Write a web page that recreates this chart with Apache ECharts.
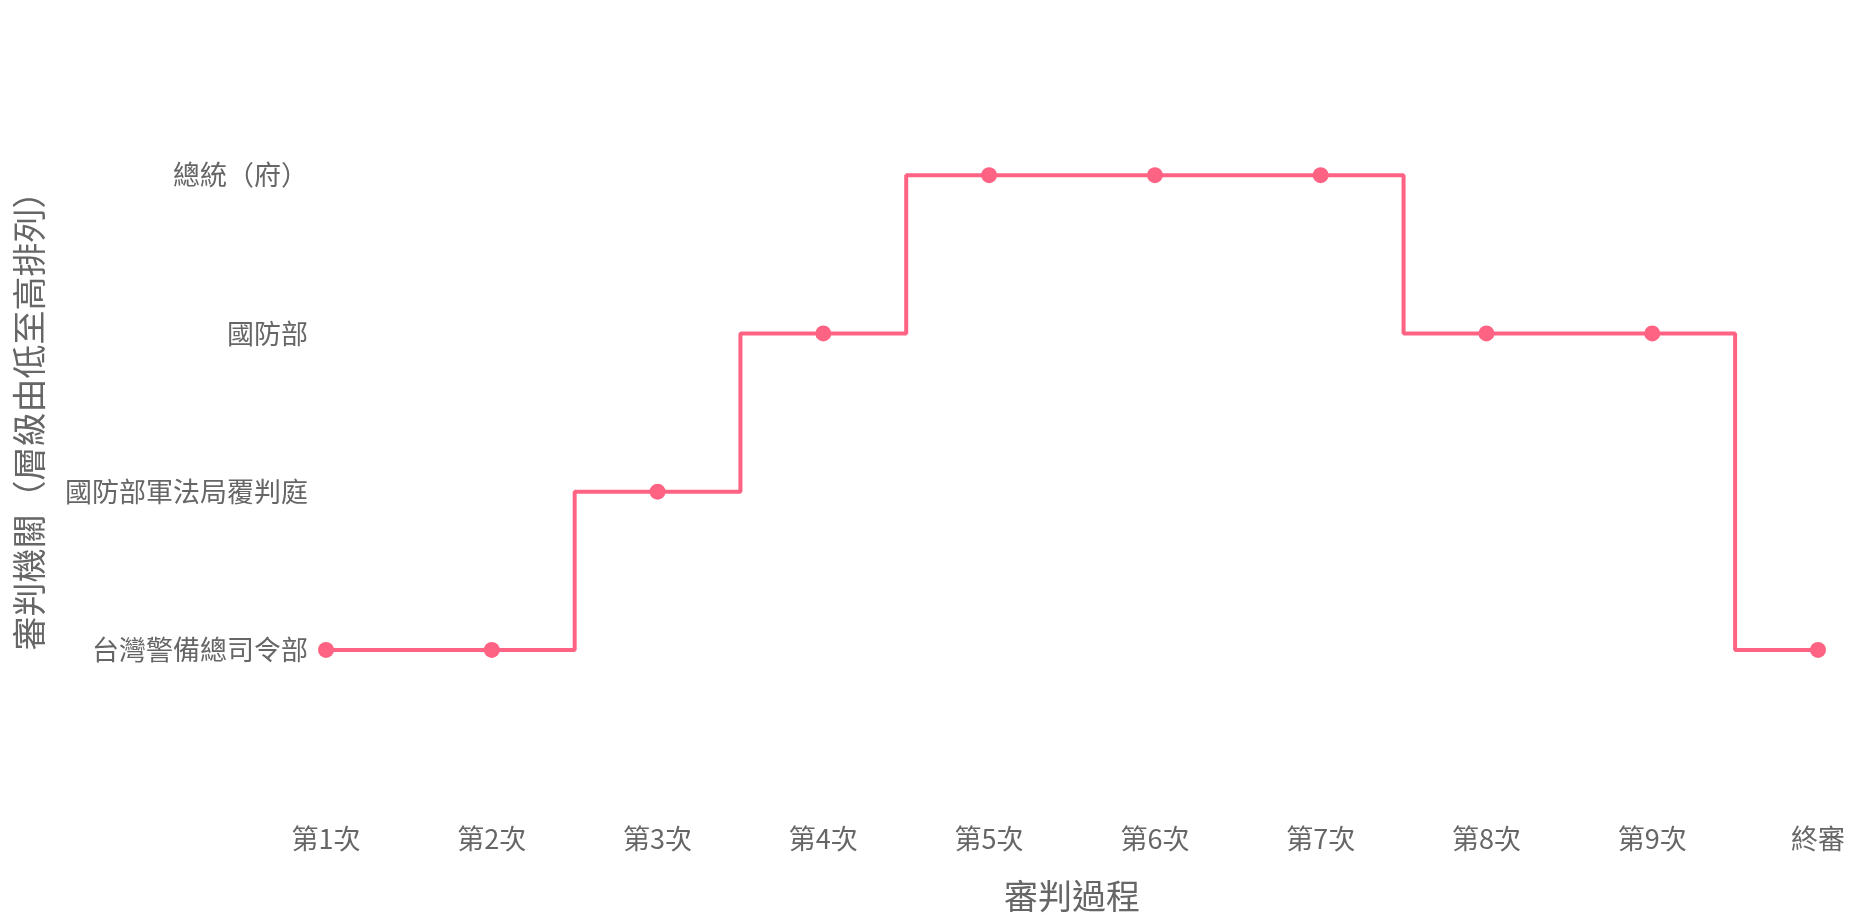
<!DOCTYPE html>
<html lang="zh-Hant-TW"><head><meta charset="utf-8">
<script src="https://cdn.jsdelivr.net/npm/echarts@6/dist/echarts.min.js"></script>
<style>html,body{margin:0;padding:0;background:#fff}#c{width:1849px;height:924px}</style>
</head><body><div id="c" lang="zh-Hant-TW"></div>
<script>
const rounds = ['第1次','第2次','第3次','第4次','第5次','第6次','第7次','第8次','第9次','終審'];
const courts = ['台灣警備總司令部','國防部軍法局覆判庭','國防部','總統（府）'];
const courtByRound = ['台灣警備總司令部','台灣警備總司令部','國防部軍法局覆判庭','國防部','總統（府）','總統（府）','總統（府）','國防部','國防部','台灣警備總司令部'];
const xTitle = '審判過程';
const yTitle = '審判機關（層級由低至高排列）';

const font = '"Noto Sans CJK TC", sans-serif';
const chart = echarts.init(document.getElementById('c'), null, {renderer:'canvas'});
chart.setOption({
  animation:false,
  grid:{left:326, right:31, top:96, bottom:195, containLabel:false},
  xAxis:{
    type:'category', data:rounds, boundaryGap:false,
    axisLine:{show:false}, axisTick:{show:false}, splitLine:{show:false},
    axisLabel:{color:'#666', fontSize:27, fontFamily:font, margin:96},
    name:xTitle, nameLocation:'middle', nameGap:150,
    nameTextStyle:{color:'#666', fontSize:34, fontFamily:font}
  },
  yAxis:{
    type:'category', data:courts, boundaryGap:true,
    axisLine:{show:false}, axisTick:{show:false}, splitLine:{show:false},
    axisLabel:{color:'#666', fontSize:27, fontFamily:font, margin:18},
    name:yTitle, nameLocation:'middle', nameGap:280,
    nameTextStyle:{color:'#666', fontSize:34, fontFamily:font}
  },
  series:[{
    type:'line', step:'middle', data:courtByRound,
    lineStyle:{color:'rgb(255,99,132)', width:4},
    itemStyle:{color:'rgb(255,99,132)'},
    symbol:'circle', symbolSize:16, showSymbol:true
  }]
});
</script></body></html>
